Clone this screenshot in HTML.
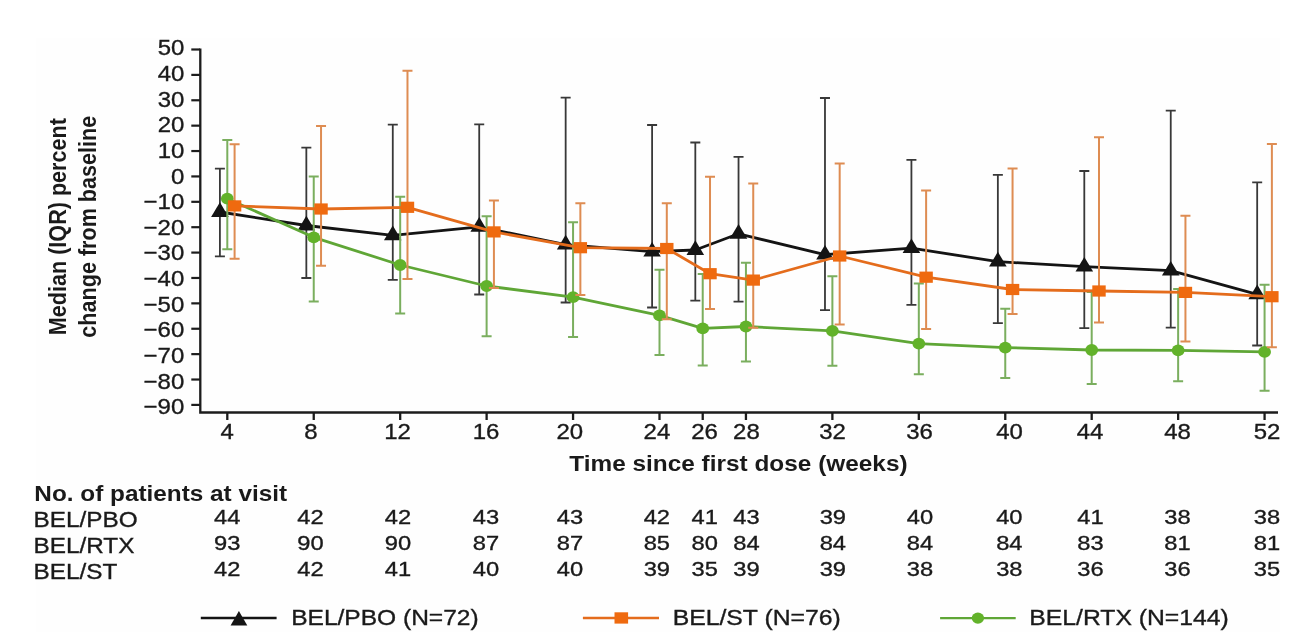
<!DOCTYPE html><html><head><meta charset="utf-8"><style>html,body{margin:0;padding:0;background:#fff;overflow:hidden}svg{display:block;will-change:transform}text{font-family:"Liberation Sans",sans-serif;white-space:pre}</style></head><body>
<svg width="1309" height="632" viewBox="0 0 1309 632">
<rect width="1309" height="632" fill="#fff"/>
<rect x="36" y="38" width="1244" height="594" fill="#fefefe"/>
<path d="M200.3 48.60 V412.5 H1278" fill="none" stroke="#1c1c1c" stroke-width="2.3"/>
<path d="M191.3 49.50 H200" stroke="#1c1c1c" stroke-width="2.2"/>
<text transform="translate(157.65 55.45) scale(1.09 1)" font-size="22" stroke="#1a1a1a" stroke-width="0.35" fill="#1a1a1a">50</text>
<path d="M191.3 74.89 H200" stroke="#1c1c1c" stroke-width="2.2"/>
<text transform="translate(157.65 81.08) scale(1.09 1)" font-size="22" stroke="#1a1a1a" stroke-width="0.35" fill="#1a1a1a">40</text>
<path d="M191.3 100.27 H200" stroke="#1c1c1c" stroke-width="2.2"/>
<text transform="translate(157.65 106.71) scale(1.09 1)" font-size="22" stroke="#1a1a1a" stroke-width="0.35" fill="#1a1a1a">30</text>
<path d="M191.3 125.66 H200" stroke="#1c1c1c" stroke-width="2.2"/>
<text transform="translate(157.65 132.34) scale(1.09 1)" font-size="22" stroke="#1a1a1a" stroke-width="0.35" fill="#1a1a1a">20</text>
<path d="M191.3 151.04 H200" stroke="#1c1c1c" stroke-width="2.2"/>
<text transform="translate(157.65 157.97) scale(1.09 1)" font-size="22" stroke="#1a1a1a" stroke-width="0.35" fill="#1a1a1a">10</text>
<path d="M191.3 176.43 H200" stroke="#1c1c1c" stroke-width="2.2"/>
<text transform="translate(171.00 183.60) scale(1.09 1)" font-size="22" stroke="#1a1a1a" stroke-width="0.35" fill="#1a1a1a">0</text>
<path d="M191.3 201.82 H200" stroke="#1c1c1c" stroke-width="2.2"/>
<text transform="translate(143.62 209.23) scale(1.09 1)" font-size="22" stroke="#1a1a1a" stroke-width="0.35" fill="#1a1a1a">−10</text>
<path d="M191.3 227.20 H200" stroke="#1c1c1c" stroke-width="2.2"/>
<text transform="translate(143.62 234.86) scale(1.09 1)" font-size="22" stroke="#1a1a1a" stroke-width="0.35" fill="#1a1a1a">−20</text>
<path d="M191.3 252.59 H200" stroke="#1c1c1c" stroke-width="2.2"/>
<text transform="translate(143.62 260.49) scale(1.09 1)" font-size="22" stroke="#1a1a1a" stroke-width="0.35" fill="#1a1a1a">−30</text>
<path d="M191.3 277.97 H200" stroke="#1c1c1c" stroke-width="2.2"/>
<text transform="translate(143.62 286.12) scale(1.09 1)" font-size="22" stroke="#1a1a1a" stroke-width="0.35" fill="#1a1a1a">−40</text>
<path d="M191.3 303.36 H200" stroke="#1c1c1c" stroke-width="2.2"/>
<text transform="translate(143.62 311.75) scale(1.09 1)" font-size="22" stroke="#1a1a1a" stroke-width="0.35" fill="#1a1a1a">−50</text>
<path d="M191.3 328.75 H200" stroke="#1c1c1c" stroke-width="2.2"/>
<text transform="translate(143.62 337.38) scale(1.09 1)" font-size="22" stroke="#1a1a1a" stroke-width="0.35" fill="#1a1a1a">−60</text>
<path d="M191.3 354.13 H200" stroke="#1c1c1c" stroke-width="2.2"/>
<text transform="translate(143.62 363.01) scale(1.09 1)" font-size="22" stroke="#1a1a1a" stroke-width="0.35" fill="#1a1a1a">−70</text>
<path d="M191.3 379.52 H200" stroke="#1c1c1c" stroke-width="2.2"/>
<text transform="translate(143.62 388.64) scale(1.09 1)" font-size="22" stroke="#1a1a1a" stroke-width="0.35" fill="#1a1a1a">−80</text>
<path d="M191.3 404.90 H200" stroke="#1c1c1c" stroke-width="2.2"/>
<text transform="translate(143.62 414.27) scale(1.09 1)" font-size="22" stroke="#1a1a1a" stroke-width="0.35" fill="#1a1a1a">−90</text>
<path d="M227.30 412 V420" stroke="#1c1c1c" stroke-width="2.3"/>
<text transform="translate(220.49 439.30) scale(1.09 1)" font-size="22" stroke="#1a1a1a" stroke-width="0.35" fill="#1a1a1a">4</text>
<path d="M313.74 412 V420" stroke="#1c1c1c" stroke-width="2.3"/>
<text transform="translate(304.32 439.30) scale(1.09 1)" font-size="22" stroke="#1a1a1a" stroke-width="0.35" fill="#1a1a1a">8</text>
<path d="M400.18 412 V420" stroke="#1c1c1c" stroke-width="2.3"/>
<text transform="translate(384.27 439.30) scale(1.09 1)" font-size="22" stroke="#1a1a1a" stroke-width="0.35" fill="#1a1a1a">12</text>
<path d="M486.62 412 V420" stroke="#1c1c1c" stroke-width="2.3"/>
<text transform="translate(472.71 439.30) scale(1.09 1)" font-size="22" stroke="#1a1a1a" stroke-width="0.35" fill="#1a1a1a">16</text>
<path d="M573.06 412 V420" stroke="#1c1c1c" stroke-width="2.3"/>
<text transform="translate(556.51 439.30) scale(1.09 1)" font-size="22" stroke="#1a1a1a" stroke-width="0.35" fill="#1a1a1a">20</text>
<path d="M659.50 412 V420" stroke="#1c1c1c" stroke-width="2.3"/>
<text transform="translate(643.58 439.30) scale(1.09 1)" font-size="22" stroke="#1a1a1a" stroke-width="0.35" fill="#1a1a1a">24</text>
<path d="M702.72 412 V420" stroke="#1c1c1c" stroke-width="2.3"/>
<text transform="translate(691.28 439.30) scale(1.09 1)" font-size="22" stroke="#1a1a1a" stroke-width="0.35" fill="#1a1a1a">26</text>
<path d="M745.94 412 V420" stroke="#1c1c1c" stroke-width="2.3"/>
<text transform="translate(733.08 439.30) scale(1.09 1)" font-size="22" stroke="#1a1a1a" stroke-width="0.35" fill="#1a1a1a">28</text>
<path d="M832.38 412 V420" stroke="#1c1c1c" stroke-width="2.3"/>
<text transform="translate(819.18 439.30) scale(1.09 1)" font-size="22" stroke="#1a1a1a" stroke-width="0.35" fill="#1a1a1a">32</text>
<path d="M918.82 412 V420" stroke="#1c1c1c" stroke-width="2.3"/>
<text transform="translate(906.22 439.30) scale(1.09 1)" font-size="22" stroke="#1a1a1a" stroke-width="0.35" fill="#1a1a1a">36</text>
<path d="M1005.26 412 V420" stroke="#1c1c1c" stroke-width="2.3"/>
<text transform="translate(996.15 439.30) scale(1.09 1)" font-size="22" stroke="#1a1a1a" stroke-width="0.35" fill="#1a1a1a">40</text>
<path d="M1091.70 412 V420" stroke="#1c1c1c" stroke-width="2.3"/>
<text transform="translate(1076.72 439.30) scale(1.09 1)" font-size="22" stroke="#1a1a1a" stroke-width="0.35" fill="#1a1a1a">44</text>
<path d="M1178.14 412 V420" stroke="#1c1c1c" stroke-width="2.3"/>
<text transform="translate(1164.22 439.30) scale(1.09 1)" font-size="22" stroke="#1a1a1a" stroke-width="0.35" fill="#1a1a1a">48</text>
<path d="M1264.58 412 V420" stroke="#1c1c1c" stroke-width="2.3"/>
<text transform="translate(1253.78 439.30) scale(1.09 1)" font-size="22" stroke="#1a1a1a" stroke-width="0.35" fill="#1a1a1a">52</text>
<text transform="translate(569.22 470.90) scale(1.109 1)" font-size="22" font-weight="bold" fill="#1a1a1a">Time since first dose (weeks)</text>
<g transform="translate(65.9 225.85) scale(1.11 1) rotate(-90)"><text x="-109.31" y="0" font-size="21.6" font-weight="bold" fill="#1a1a1a">Median (IQR) percent</text></g>
<g transform="translate(95.7 226.45) scale(1.11 1) rotate(-90)"><text x="-111.19" y="0" font-size="21.6" font-weight="bold" fill="#1a1a1a">change from baseline</text></g>
<path d="M219.90 168.70 V256.40 M214.90 168.70 H224.90 M214.90 256.40 H224.90" stroke="#383838" stroke-width="1.8" fill="none"/><path d="M306.34 147.70 V278.00 M301.34 147.70 H311.34 M301.34 278.00 H311.34" stroke="#383838" stroke-width="1.8" fill="none"/><path d="M392.78 124.60 V279.80 M387.78 124.60 H397.78 M387.78 279.80 H397.78" stroke="#383838" stroke-width="1.8" fill="none"/><path d="M479.22 124.40 V294.50 M474.22 124.40 H484.22 M474.22 294.50 H484.22" stroke="#383838" stroke-width="1.8" fill="none"/><path d="M565.66 97.70 V302.50 M560.66 97.70 H570.66 M560.66 302.50 H570.66" stroke="#383838" stroke-width="1.8" fill="none"/><path d="M652.10 125.00 V307.50 M647.10 125.00 H657.10 M647.10 307.50 H657.10" stroke="#383838" stroke-width="1.8" fill="none"/><path d="M695.32 142.50 V300.60 M690.32 142.50 H700.32 M690.32 300.60 H700.32" stroke="#383838" stroke-width="1.8" fill="none"/><path d="M738.54 156.90 V301.60 M733.54 156.90 H743.54 M733.54 301.60 H743.54" stroke="#383838" stroke-width="1.8" fill="none"/><path d="M824.98 98.00 V310.20 M819.98 98.00 H829.98 M819.98 310.20 H829.98" stroke="#383838" stroke-width="1.8" fill="none"/><path d="M911.42 159.80 V304.80 M906.42 159.80 H916.42 M906.42 304.80 H916.42" stroke="#383838" stroke-width="1.8" fill="none"/><path d="M997.86 174.80 V323.20 M992.86 174.80 H1002.86 M992.86 323.20 H1002.86" stroke="#383838" stroke-width="1.8" fill="none"/><path d="M1084.30 171.00 V328.20 M1079.30 171.00 H1089.30 M1079.30 328.20 H1089.30" stroke="#383838" stroke-width="1.8" fill="none"/><path d="M1170.74 110.60 V327.70 M1165.74 110.60 H1175.74 M1165.74 327.70 H1175.74" stroke="#383838" stroke-width="1.8" fill="none"/><path d="M1257.18 182.30 V345.50 M1252.18 182.30 H1262.18 M1252.18 345.50 H1262.18" stroke="#383838" stroke-width="1.8" fill="none"/><path d="M219.90 212.00 L306.34 225.50 L392.78 235.30 L479.22 226.90 L565.66 244.60 L652.10 251.70 L695.32 250.00 L738.54 233.80 L824.98 254.70 L911.42 248.20 L997.86 261.60 L1084.30 266.70 L1170.74 270.70 L1257.18 294.30" stroke="#141414" stroke-width="2.8" fill="none" stroke-linejoin="round"/><path d="M219.90 202.20 L228.70 216.90 L211.10 216.90Z" fill="#141414"/><path d="M306.34 215.70 L315.14 230.40 L297.54 230.40Z" fill="#141414"/><path d="M392.78 225.50 L401.58 240.20 L383.98 240.20Z" fill="#141414"/><path d="M479.22 217.10 L488.02 231.80 L470.42 231.80Z" fill="#141414"/><path d="M565.66 234.80 L574.46 249.50 L556.86 249.50Z" fill="#141414"/><path d="M652.10 241.90 L660.90 256.60 L643.30 256.60Z" fill="#141414"/><path d="M695.32 240.20 L704.12 254.90 L686.52 254.90Z" fill="#141414"/><path d="M738.54 224.00 L747.34 238.70 L729.74 238.70Z" fill="#141414"/><path d="M824.98 244.90 L833.78 259.60 L816.18 259.60Z" fill="#141414"/><path d="M911.42 238.40 L920.22 253.10 L902.62 253.10Z" fill="#141414"/><path d="M997.86 251.80 L1006.66 266.50 L989.06 266.50Z" fill="#141414"/><path d="M1084.30 256.90 L1093.10 271.60 L1075.50 271.60Z" fill="#141414"/><path d="M1170.74 260.90 L1179.54 275.60 L1161.94 275.60Z" fill="#141414"/><path d="M1257.18 284.50 L1265.98 299.20 L1248.38 299.20Z" fill="#141414"/>
<path d="M227.30 140.00 V249.30 M222.30 140.00 H232.30 M222.30 249.30 H232.30" stroke="#7aae5e" stroke-width="2.0" fill="none"/><path d="M313.74 176.60 V301.40 M308.74 176.60 H318.74 M308.74 301.40 H318.74" stroke="#7aae5e" stroke-width="2.0" fill="none"/><path d="M400.18 196.80 V313.40 M395.18 196.80 H405.18 M395.18 313.40 H405.18" stroke="#7aae5e" stroke-width="2.0" fill="none"/><path d="M486.62 216.30 V336.30 M481.62 216.30 H491.62 M481.62 336.30 H491.62" stroke="#7aae5e" stroke-width="2.0" fill="none"/><path d="M573.06 222.30 V337.00 M568.06 222.30 H578.06 M568.06 337.00 H578.06" stroke="#7aae5e" stroke-width="2.0" fill="none"/><path d="M659.50 269.70 V354.90 M654.50 269.70 H664.50 M654.50 354.90 H664.50" stroke="#7aae5e" stroke-width="2.0" fill="none"/><path d="M702.72 273.90 V365.60 M697.72 273.90 H707.72 M697.72 365.60 H707.72" stroke="#7aae5e" stroke-width="2.0" fill="none"/><path d="M745.94 262.70 V361.40 M740.94 262.70 H750.94 M740.94 361.40 H750.94" stroke="#7aae5e" stroke-width="2.0" fill="none"/><path d="M832.38 276.20 V365.80 M827.38 276.20 H837.38 M827.38 365.80 H837.38" stroke="#7aae5e" stroke-width="2.0" fill="none"/><path d="M918.82 283.50 V374.20 M913.82 283.50 H923.82 M913.82 374.20 H923.82" stroke="#7aae5e" stroke-width="2.0" fill="none"/><path d="M1005.26 308.80 V378.00 M1000.26 308.80 H1010.26 M1000.26 378.00 H1010.26" stroke="#7aae5e" stroke-width="2.0" fill="none"/><path d="M1091.70 292.00 V383.90 M1086.70 292.00 H1096.70 M1086.70 383.90 H1096.70" stroke="#7aae5e" stroke-width="2.0" fill="none"/><path d="M1178.14 288.90 V381.30 M1173.14 288.90 H1183.14 M1173.14 381.30 H1183.14" stroke="#7aae5e" stroke-width="2.0" fill="none"/><path d="M1264.58 284.80 V390.80 M1259.58 284.80 H1269.58 M1259.58 390.80 H1269.58" stroke="#7aae5e" stroke-width="2.0" fill="none"/><path d="M227.30 198.70 L313.74 237.30 L400.18 265.00 L486.62 286.00 L573.06 297.20 L659.50 315.40 L702.72 328.40 L745.94 326.50 L832.38 330.90 L918.82 343.60 L1005.26 347.60 L1091.70 350.00 L1178.14 350.30 L1264.58 351.90" stroke="#5fa636" stroke-width="2.8" fill="none" stroke-linejoin="round"/><ellipse cx="227.30" cy="198.70" rx="6.4" ry="5.9" fill="#62b22a"/><ellipse cx="313.74" cy="237.30" rx="6.4" ry="5.9" fill="#62b22a"/><ellipse cx="400.18" cy="265.00" rx="6.4" ry="5.9" fill="#62b22a"/><ellipse cx="486.62" cy="286.00" rx="6.4" ry="5.9" fill="#62b22a"/><ellipse cx="573.06" cy="297.20" rx="6.4" ry="5.9" fill="#62b22a"/><ellipse cx="659.50" cy="315.40" rx="6.4" ry="5.9" fill="#62b22a"/><ellipse cx="702.72" cy="328.40" rx="6.4" ry="5.9" fill="#62b22a"/><ellipse cx="745.94" cy="326.50" rx="6.4" ry="5.9" fill="#62b22a"/><ellipse cx="832.38" cy="330.90" rx="6.4" ry="5.9" fill="#62b22a"/><ellipse cx="918.82" cy="343.60" rx="6.4" ry="5.9" fill="#62b22a"/><ellipse cx="1005.26" cy="347.60" rx="6.4" ry="5.9" fill="#62b22a"/><ellipse cx="1091.70" cy="350.00" rx="6.4" ry="5.9" fill="#62b22a"/><ellipse cx="1178.14" cy="350.30" rx="6.4" ry="5.9" fill="#62b22a"/><ellipse cx="1264.58" cy="351.90" rx="6.4" ry="5.9" fill="#62b22a"/>
<path d="M234.60 144.20 V258.80 M229.60 144.20 H239.60 M229.60 258.80 H239.60" stroke="#de8c52" stroke-width="2.0" fill="none"/><path d="M321.04 125.90 V265.70 M316.04 125.90 H326.04 M316.04 265.70 H326.04" stroke="#de8c52" stroke-width="2.0" fill="none"/><path d="M407.48 70.80 V278.90 M402.48 70.80 H412.48 M402.48 278.90 H412.48" stroke="#de8c52" stroke-width="2.0" fill="none"/><path d="M493.92 200.50 V288.00 M488.92 200.50 H498.92 M488.92 288.00 H498.92" stroke="#de8c52" stroke-width="2.0" fill="none"/><path d="M580.36 203.30 V294.90 M575.36 203.30 H585.36 M575.36 294.90 H585.36" stroke="#de8c52" stroke-width="2.0" fill="none"/><path d="M666.80 203.20 V319.20 M661.80 203.20 H671.80 M661.80 319.20 H671.80" stroke="#de8c52" stroke-width="2.0" fill="none"/><path d="M710.02 176.70 V308.90 M705.02 176.70 H715.02 M705.02 308.90 H715.02" stroke="#de8c52" stroke-width="2.0" fill="none"/><path d="M753.24 183.50 V327.70 M748.24 183.50 H758.24 M748.24 327.70 H758.24" stroke="#de8c52" stroke-width="2.0" fill="none"/><path d="M839.68 163.50 V324.40 M834.68 163.50 H844.68 M834.68 324.40 H844.68" stroke="#de8c52" stroke-width="2.0" fill="none"/><path d="M926.12 190.60 V329.10 M921.12 190.60 H931.12 M921.12 329.10 H931.12" stroke="#de8c52" stroke-width="2.0" fill="none"/><path d="M1012.56 168.50 V313.90 M1007.56 168.50 H1017.56 M1007.56 313.90 H1017.56" stroke="#de8c52" stroke-width="2.0" fill="none"/><path d="M1099.00 137.20 V322.50 M1094.00 137.20 H1104.00 M1094.00 322.50 H1104.00" stroke="#de8c52" stroke-width="2.0" fill="none"/><path d="M1185.44 215.70 V341.50 M1180.44 215.70 H1190.44 M1180.44 341.50 H1190.44" stroke="#de8c52" stroke-width="2.0" fill="none"/><path d="M1271.88 144.10 V347.20 M1266.88 144.10 H1276.88 M1266.88 347.20 H1276.88" stroke="#de8c52" stroke-width="2.0" fill="none"/><path d="M234.60 205.90 L321.04 209.00 L407.48 207.30 L493.92 231.90 L580.36 247.70 L666.80 248.50 L710.02 273.70 L753.24 280.10 L839.68 256.00 L926.12 277.20 L1012.56 289.50 L1099.00 291.00 L1185.44 292.40 L1271.88 296.70" stroke="#e46c1c" stroke-width="2.8" fill="none" stroke-linejoin="round"/><rect x="227.90" y="200.30" width="13.4" height="11.2" fill="#ef6a0f"/><rect x="314.34" y="203.40" width="13.4" height="11.2" fill="#ef6a0f"/><rect x="400.78" y="201.70" width="13.4" height="11.2" fill="#ef6a0f"/><rect x="487.22" y="226.30" width="13.4" height="11.2" fill="#ef6a0f"/><rect x="573.66" y="242.10" width="13.4" height="11.2" fill="#ef6a0f"/><rect x="660.10" y="242.90" width="13.4" height="11.2" fill="#ef6a0f"/><rect x="703.32" y="268.10" width="13.4" height="11.2" fill="#ef6a0f"/><rect x="746.54" y="274.50" width="13.4" height="11.2" fill="#ef6a0f"/><rect x="832.98" y="250.40" width="13.4" height="11.2" fill="#ef6a0f"/><rect x="919.42" y="271.60" width="13.4" height="11.2" fill="#ef6a0f"/><rect x="1005.86" y="283.90" width="13.4" height="11.2" fill="#ef6a0f"/><rect x="1092.30" y="285.40" width="13.4" height="11.2" fill="#ef6a0f"/><rect x="1178.74" y="286.80" width="13.4" height="11.2" fill="#ef6a0f"/><rect x="1265.18" y="291.10" width="13.4" height="11.2" fill="#ef6a0f"/>
<text transform="translate(34.34 501.30) scale(1.107 1)" font-size="22" font-weight="bold" fill="#1a1a1a">No. of patients at visit</text>
<text transform="translate(33.57 527.20) scale(1.105 1)" font-size="22" stroke="#1a1a1a" stroke-width="0.35" fill="#1a1a1a">BEL/PBO</text>
<text transform="translate(213.94 524.00) scale(1.13 1)" font-size="21" fill="#1a1a1a" stroke="#1a1a1a" stroke-width="0.35">44</text>
<text transform="translate(297.24 524.00) scale(1.13 1)" font-size="21" fill="#1a1a1a" stroke="#1a1a1a" stroke-width="0.35">42</text>
<text transform="translate(384.74 524.00) scale(1.13 1)" font-size="21" fill="#1a1a1a" stroke="#1a1a1a" stroke-width="0.35">42</text>
<text transform="translate(472.74 524.00) scale(1.13 1)" font-size="21" fill="#1a1a1a" stroke="#1a1a1a" stroke-width="0.35">43</text>
<text transform="translate(556.73 524.00) scale(1.13 1)" font-size="21" fill="#1a1a1a" stroke="#1a1a1a" stroke-width="0.35">43</text>
<text transform="translate(643.63 524.00) scale(1.13 1)" font-size="21" fill="#1a1a1a" stroke="#1a1a1a" stroke-width="0.35">42</text>
<text transform="translate(691.53 524.00) scale(1.13 1)" font-size="21" fill="#1a1a1a" stroke="#1a1a1a" stroke-width="0.35">41</text>
<text transform="translate(733.23 524.00) scale(1.13 1)" font-size="21" fill="#1a1a1a" stroke="#1a1a1a" stroke-width="0.35">43</text>
<text transform="translate(819.63 524.00) scale(1.13 1)" font-size="21" fill="#1a1a1a" stroke="#1a1a1a" stroke-width="0.35">39</text>
<text transform="translate(906.73 524.00) scale(1.13 1)" font-size="21" fill="#1a1a1a" stroke="#1a1a1a" stroke-width="0.35">40</text>
<text transform="translate(996.13 524.00) scale(1.13 1)" font-size="21" fill="#1a1a1a" stroke="#1a1a1a" stroke-width="0.35">40</text>
<text transform="translate(1077.23 524.00) scale(1.13 1)" font-size="21" fill="#1a1a1a" stroke="#1a1a1a" stroke-width="0.35">41</text>
<text transform="translate(1164.34 524.00) scale(1.13 1)" font-size="21" fill="#1a1a1a" stroke="#1a1a1a" stroke-width="0.35">38</text>
<text transform="translate(1253.84 524.00) scale(1.13 1)" font-size="21" fill="#1a1a1a" stroke="#1a1a1a" stroke-width="0.35">38</text>
<text transform="translate(33.57 552.80) scale(1.105 1)" font-size="22" stroke="#1a1a1a" stroke-width="0.35" fill="#1a1a1a">BEL/RTX</text>
<text transform="translate(213.94 549.80) scale(1.13 1)" font-size="21" fill="#1a1a1a" stroke="#1a1a1a" stroke-width="0.35">93</text>
<text transform="translate(297.24 549.80) scale(1.13 1)" font-size="21" fill="#1a1a1a" stroke="#1a1a1a" stroke-width="0.35">90</text>
<text transform="translate(384.74 549.80) scale(1.13 1)" font-size="21" fill="#1a1a1a" stroke="#1a1a1a" stroke-width="0.35">90</text>
<text transform="translate(472.74 549.80) scale(1.13 1)" font-size="21" fill="#1a1a1a" stroke="#1a1a1a" stroke-width="0.35">87</text>
<text transform="translate(556.73 549.80) scale(1.13 1)" font-size="21" fill="#1a1a1a" stroke="#1a1a1a" stroke-width="0.35">87</text>
<text transform="translate(643.63 549.80) scale(1.13 1)" font-size="21" fill="#1a1a1a" stroke="#1a1a1a" stroke-width="0.35">85</text>
<text transform="translate(691.53 549.80) scale(1.13 1)" font-size="21" fill="#1a1a1a" stroke="#1a1a1a" stroke-width="0.35">80</text>
<text transform="translate(733.23 549.80) scale(1.13 1)" font-size="21" fill="#1a1a1a" stroke="#1a1a1a" stroke-width="0.35">84</text>
<text transform="translate(819.63 549.80) scale(1.13 1)" font-size="21" fill="#1a1a1a" stroke="#1a1a1a" stroke-width="0.35">84</text>
<text transform="translate(906.73 549.80) scale(1.13 1)" font-size="21" fill="#1a1a1a" stroke="#1a1a1a" stroke-width="0.35">84</text>
<text transform="translate(996.13 549.80) scale(1.13 1)" font-size="21" fill="#1a1a1a" stroke="#1a1a1a" stroke-width="0.35">84</text>
<text transform="translate(1077.23 549.80) scale(1.13 1)" font-size="21" fill="#1a1a1a" stroke="#1a1a1a" stroke-width="0.35">83</text>
<text transform="translate(1164.34 549.80) scale(1.13 1)" font-size="21" fill="#1a1a1a" stroke="#1a1a1a" stroke-width="0.35">81</text>
<text transform="translate(1253.84 549.80) scale(1.13 1)" font-size="21" fill="#1a1a1a" stroke="#1a1a1a" stroke-width="0.35">81</text>
<text transform="translate(33.57 578.50) scale(1.105 1)" font-size="22" stroke="#1a1a1a" stroke-width="0.35" fill="#1a1a1a">BEL/ST</text>
<text transform="translate(213.94 575.50) scale(1.13 1)" font-size="21" fill="#1a1a1a" stroke="#1a1a1a" stroke-width="0.35">42</text>
<text transform="translate(297.24 575.50) scale(1.13 1)" font-size="21" fill="#1a1a1a" stroke="#1a1a1a" stroke-width="0.35">42</text>
<text transform="translate(384.74 575.50) scale(1.13 1)" font-size="21" fill="#1a1a1a" stroke="#1a1a1a" stroke-width="0.35">41</text>
<text transform="translate(472.74 575.50) scale(1.13 1)" font-size="21" fill="#1a1a1a" stroke="#1a1a1a" stroke-width="0.35">40</text>
<text transform="translate(556.73 575.50) scale(1.13 1)" font-size="21" fill="#1a1a1a" stroke="#1a1a1a" stroke-width="0.35">40</text>
<text transform="translate(643.63 575.50) scale(1.13 1)" font-size="21" fill="#1a1a1a" stroke="#1a1a1a" stroke-width="0.35">39</text>
<text transform="translate(691.53 575.50) scale(1.13 1)" font-size="21" fill="#1a1a1a" stroke="#1a1a1a" stroke-width="0.35">35</text>
<text transform="translate(733.23 575.50) scale(1.13 1)" font-size="21" fill="#1a1a1a" stroke="#1a1a1a" stroke-width="0.35">39</text>
<text transform="translate(819.63 575.50) scale(1.13 1)" font-size="21" fill="#1a1a1a" stroke="#1a1a1a" stroke-width="0.35">39</text>
<text transform="translate(906.73 575.50) scale(1.13 1)" font-size="21" fill="#1a1a1a" stroke="#1a1a1a" stroke-width="0.35">38</text>
<text transform="translate(996.13 575.50) scale(1.13 1)" font-size="21" fill="#1a1a1a" stroke="#1a1a1a" stroke-width="0.35">38</text>
<text transform="translate(1077.23 575.50) scale(1.13 1)" font-size="21" fill="#1a1a1a" stroke="#1a1a1a" stroke-width="0.35">36</text>
<text transform="translate(1164.34 575.50) scale(1.13 1)" font-size="21" fill="#1a1a1a" stroke="#1a1a1a" stroke-width="0.35">36</text>
<text transform="translate(1253.84 575.50) scale(1.13 1)" font-size="21" fill="#1a1a1a" stroke="#1a1a1a" stroke-width="0.35">35</text>
<path d="M200.8 618.1 H276.6" stroke="#141414" stroke-width="2.5"/>
<path d="M238.9 611 L247.3 625.5 L230.6 625.5Z" fill="#141414"/>
<text transform="translate(291.15 624.70) scale(1.116 1)" font-size="22" stroke="#1a1a1a" stroke-width="0.35" fill="#1a1a1a">BEL/PBO (N=72)</text>
<path d="M582.9 618.1 H659" stroke="#e46c1c" stroke-width="2.5"/>
<rect x="614.5" y="612.3" width="13.6" height="11.3" fill="#ef6a0f"/>
<text transform="translate(672.63 624.70) scale(1.127 1)" font-size="22" stroke="#1a1a1a" stroke-width="0.35" fill="#1a1a1a">BEL/ST (N=76)</text>
<path d="M940.1 618.1 H1015.7" stroke="#5fa636" stroke-width="2.4"/>
<ellipse cx="977.9" cy="618.1" rx="6.2" ry="5.6" fill="#62b22a"/>
<text transform="translate(1029.33 624.70) scale(1.124 1)" font-size="22" stroke="#1a1a1a" stroke-width="0.35" fill="#1a1a1a">BEL/RTX (N=144)</text>
</svg></body></html>
